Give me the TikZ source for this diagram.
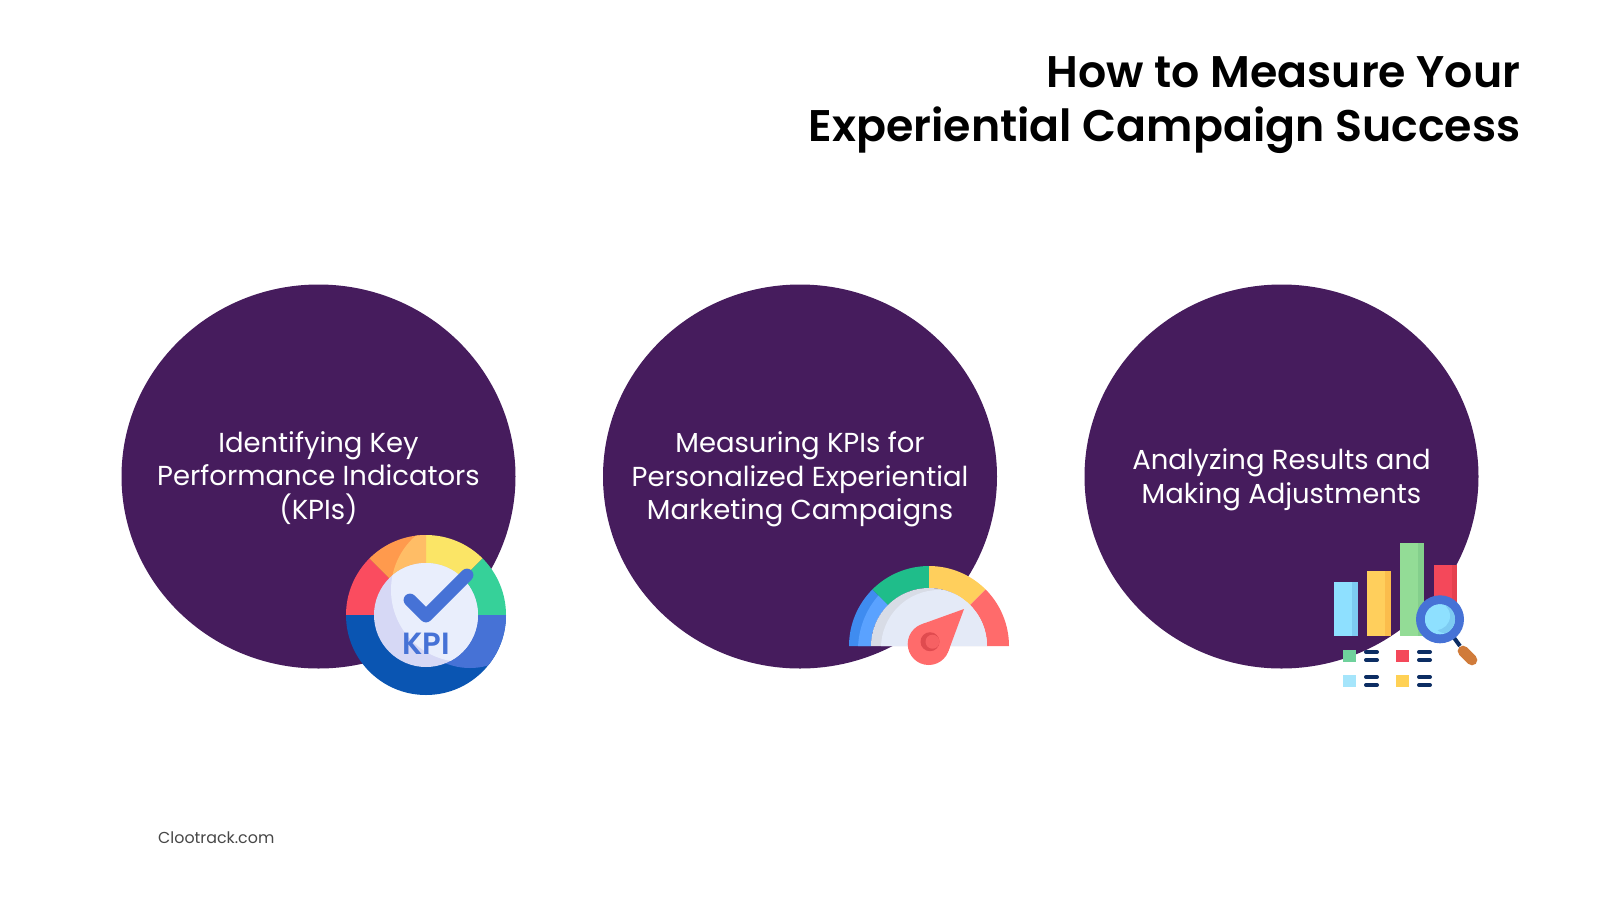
\documentclass[tikz,border=0pt]{standalone}
\usepackage{fontspec}
\usetikzlibrary{shapes.geometric}
\setmainfont{Poppins}
\newfontfamily\titlefont{Poppins SemiBold}
\definecolor{plum}{HTML}{461C5D}
\definecolor{navyline}{HTML}{0C2D63}
\definecolor{iconblue}{HTML}{4672D6}
\definecolor{deepblue}{HTML}{0A55B2}
\definecolor{softwhite}{HTML}{E9EEFC}
\definecolor{softlav}{HTML}{D6D8F5}
\definecolor{kred}{HTML}{FA4C5F}
\definecolor{korange}{HTML}{FF9A4D}
\definecolor{korangel}{HTML}{FFBD66}
\definecolor{kyellow}{HTML}{FBE566}
\definecolor{kgreen}{HTML}{36D199}
\definecolor{gblue}{HTML}{3F8CF0}
\definecolor{gbluel}{HTML}{5AA2FF}
\definecolor{ggreen}{HTML}{1FBD8A}
\definecolor{gyellow}{HTML}{FFCF5C}
\definecolor{gred}{HTML}{FF6B6B}
\definecolor{gdisc}{HTML}{E4EAF7}
\definecolor{gdiscd}{HTML}{D8DCE6}
\definecolor{gneedled}{HTML}{E04B4F}
\definecolor{bskye}{HTML}{8EE0FF}
\definecolor{bskyd}{HTML}{7DCBF2}
\definecolor{bamber}{HTML}{FFCF5C}
\definecolor{bamberd}{HTML}{FBBD4C}
\definecolor{bmint}{HTML}{93DC96}
\definecolor{bmintd}{HTML}{84CF8C}
\definecolor{bred}{HTML}{F4485A}
\definecolor{bredd}{HTML}{E5414F}
\definecolor{sgreen}{HTML}{6FD19C}
\definecolor{ssky}{HTML}{A5E5FB}
\definecolor{syellow}{HTML}{FFD155}
\definecolor{brownh}{HTML}{D07B3A}
\newcommand{\annsec}[6]{\begin{scope}[shift={(#2)}]\fill[#1] (-#3:#6) arc[start angle=-#3,end angle=-#4,radius=#6] -- (-#4:#5) arc[start angle=-#4,end angle=-#3,radius=#5] -- cycle;\end{scope}}
\newcommand{\barbox}[4]{\fill[#1] (#3,#4) rectangle (#3+23.4,636); \fill[#2] (#3+17.8,#4) rectangle (#3+23.4,636);}
\tikzset{
  disc/.style={ellipse,fill=plum,minimum width=295.5pt,minimum height=288pt,inner sep=0pt},
  disctext/.style={text=white,align=center,font=\fontsize{20.6}{25.2}\selectfont},
  titletext/.style={anchor=base east,font=\titlefont\fontsize{33.2}{40}\selectfont,text=black},
  legendline/.style={line width=3pt,draw=navyline,line cap=round},
}
\begin{document}
\begin{tikzpicture}[x=0.75pt,y=-0.75pt]
\useasboundingbox (0,0) rectangle (1600,900);
\fill[white] (0,0) rectangle (1600,900);
\node[titletext] (t1) at (1525,87.5) {How to Measure Your};
\node[titletext] (t2) at (1525,141) {Experiential Campaign Success};
\node[disc] (c1) at (318.5,476.5) {};
\node[disc] (c2) at (800,476.5) {};
\node[disc] (c3) at (1281.5,476.5) {};
\node[disctext] (l1) at (318.5,478) {Identifying Key\\Performance Indicators\\(KPIs)};
\node[disctext] (l2) at (800,479.5) {Measuring KPIs for\\Personalized Experiential\\Marketing Campaigns};
\node[disctext] (l3) at (1281.5,480) {Analyzing Results and\\Making Adjustments};
\node[anchor=west,font=\fontsize{11.9}{15}\selectfont,text=black!72] (src) at (153.5,838) {Clootrack.com};
% KPI icon
\coordinate (k) at (426,615);
\annsec{kred}{k}{135}{180}{50}{80}
\annsec{korange}{k}{90}{135}{50}{80}
\annsec{kyellow}{k}{45}{90}{50}{80}
\annsec{kgreen}{k}{0}{45}{50}{80}
\annsec{deepblue}{k}{180}{360}{50}{80}
\begin{scope}
\clip (k) circle (80);
\clip (381,535) rectangle (426,615);
\fill[korangel] (463,590) circle (72);
\end{scope}
\begin{scope}
\clip (k) circle (80);
\clip (346,615) rectangle (506,695);
\fill[iconblue] (470,603) circle (65);
\end{scope}
\fill[softlav] (k) circle (52);
\begin{scope}
\clip (k) circle (52);
\fill[softwhite] (463,590) circle (72);
\end{scope}
\draw[iconblue,line width=9.6pt,line cap=round,line join=round] (410,600) -- (426,616) -- (467,575);
\node[font=\titlefont\fontsize{23}{28}\selectfont,text=iconblue] (kpi) at (426,644) {KPI};
% Gauge icon
\coordinate (g) at (929,646);
\annsec{gblue}{g}{135}{180}{58}{80}
\begin{scope}
\clip (849,646) -- (871,646) arc[start angle=180,end angle=225,radius=58] -- (872.4,589.4) -- (929,566) -- (849,566) -- cycle;
\clip (941,650) circle (83);
\annsec{gbluel}{g}{135}{180}{58}{80}
\end{scope}
\annsec{ggreen}{g}{90}{135}{58}{80}
\annsec{gyellow}{g}{45}{90}{58}{80}
\annsec{gred}{g}{0}{45}{58}{80}
\annsec{gdiscd}{g}{0}{180}{0}{58}
\begin{scope}
\clip (871,646) arc[start angle=180,end angle=360,radius=58] -- cycle;
\fill[gdisc] (939,648) circle (58);
\end{scope}
\fill[gred] (964,609) -- (921.5,624.3) -- (948.4,651.2) -- cycle;
\fill[gred] (928.7,644) circle (21);
\fill[gneedled] (930,641.7) circle (9.5);
\fill[gred!70!gneedled] (932.5,641.7) circle (7);
% Chart icon
\barbox{bskye}{bskyd}{1334.3}{581.7}
\barbox{bamber}{bamberd}{1367.3}{570.7}
\barbox{bmint}{bmintd}{1400.3}{543.3}
\barbox{bred}{bredd}{1433.7}{565.3}
\draw[navyline,line width=3pt] (1452,635) -- (1460,646);
\draw[brownh,line width=8pt,line cap=round] (1463,651) -- (1472,660);
\fill[iconblue] (1440,619.3) circle (24);
\fill[bskye] (1440,619.3) circle (15);
\begin{scope}
\clip (1440,619.3) circle (15);
\fill[bskyd] (1446,619.3) circle (14);
\fill[bskye] (1436,616) circle (14);
\end{scope}
\fill[sgreen] (1343.3,649.7) rectangle (1356,662.3);
\fill[bred] (1396.3,649.7) rectangle (1409.3,662.3);
\fill[ssky] (1343.3,674.7) rectangle (1356,687.3);
\fill[syellow] (1396.3,674.7) rectangle (1409.3,687.3);
\draw[legendline] (1366,652) -- (1377,652);
\draw[legendline] (1366,660) -- (1377,660);
\draw[legendline] (1419,652) -- (1430,652);
\draw[legendline] (1419,660) -- (1430,660);
\draw[legendline] (1366,677) -- (1377,677);
\draw[legendline] (1366,685) -- (1377,685);
\draw[legendline] (1419,677) -- (1430,677);
\draw[legendline] (1419,685) -- (1430,685);
\end{tikzpicture}
\end{document}
